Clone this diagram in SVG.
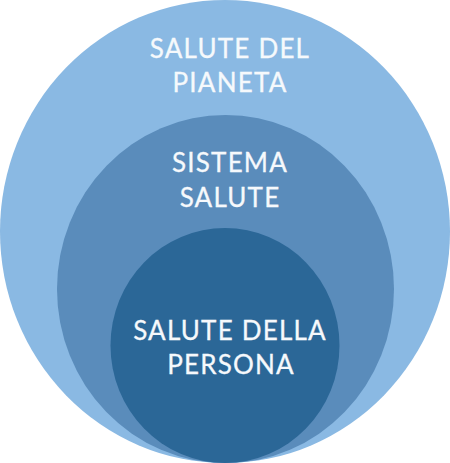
<svg xmlns="http://www.w3.org/2000/svg" width="450" height="463" viewBox="0 0 450 463">
<style>
text{font-family:Lato,"Noto Sans",sans-serif;font-size:26px;fill:#f6f9fc;text-anchor:middle;letter-spacing:1.2px;stroke:#f6f9fc;stroke-width:0.3px}
</style>
<rect width="450" height="463" fill="#ffffff"/>
<g id="planet">
<ellipse cx="225" cy="231.5" rx="225" ry="231.5" fill="#8ab9e3"/>
<text x="230" y="58">SALUTE DEL</text>
<text x="230" y="92">PIANETA</text>
</g>
<g id="system">
<ellipse cx="225.5" cy="289" rx="168.5" ry="174" fill="#5a8cbb"/>
<text x="230" y="172">SISTEMA</text>
<text x="230" y="207">SALUTE</text>
</g>
<g id="person">
<ellipse cx="225" cy="345.5" rx="114.5" ry="117.5" fill="#2b6797"/>
<text x="230" y="340">SALUTE DELLA</text>
<text x="231" y="374">PERSONA</text>
</g>
<g id="connectors"/>
</svg>
